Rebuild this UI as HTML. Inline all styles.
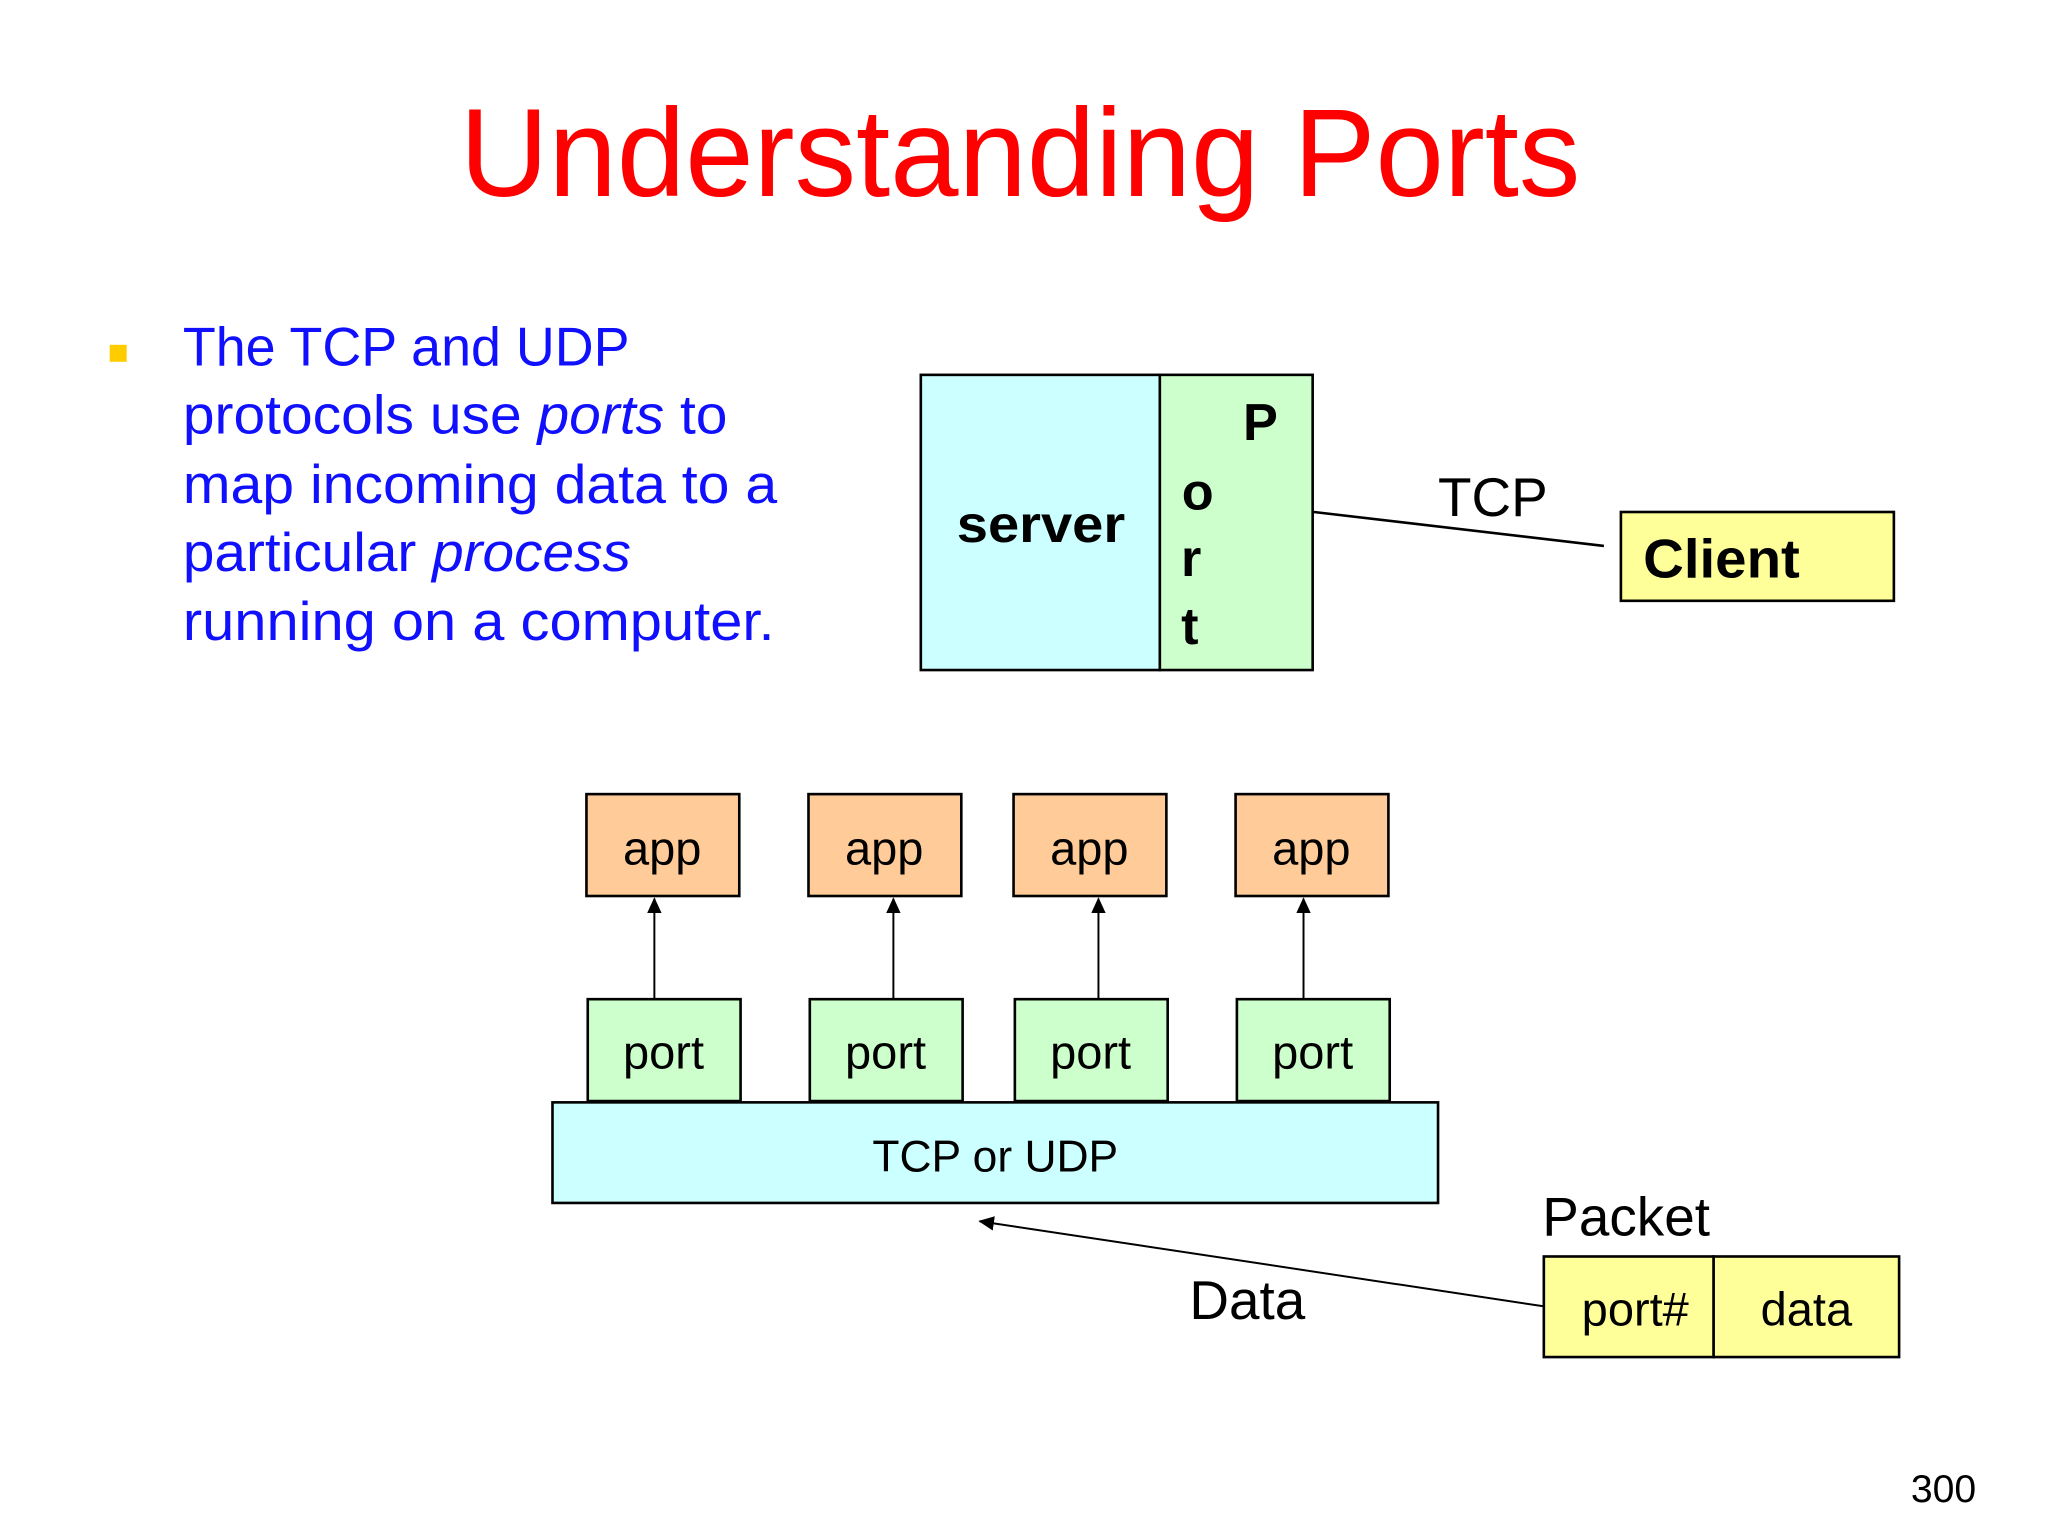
<!DOCTYPE html>
<html><head><meta charset="utf-8"><style>html,body{margin:0;padding:0;background:#fff}svg{display:block}</style></head>
<body>
<svg width="2048" height="1536" viewBox="0 0 1568 1176" preserveAspectRatio="none" xmlns="http://www.w3.org/2000/svg" font-family="Liberation Sans, sans-serif">
<defs><marker id="ah" markerWidth="12" markerHeight="12" refX="11" refY="5.5" orient="auto" markerUnits="userSpaceOnUse"><path d="M0,0 L12,5.5 L0,11 z" fill="#000"/></marker></defs>
<text x="781" y="150" text-anchor="middle" font-size="96" fill="#FF0000" textLength="858" lengthAdjust="spacingAndGlyphs">Understanding Ports</text>
<rect x="84" y="264" width="13" height="13" fill="#FFCC00"/>
<g fill="#1010FF" font-size="42">
<text x="140" y="280" textLength="342" lengthAdjust="spacingAndGlyphs">The TCP and UDP</text>
<text x="140" y="332" textLength="417" lengthAdjust="spacingAndGlyphs">protocols use <tspan font-style="italic">ports</tspan> to</text>
<text x="140" y="385" textLength="455" lengthAdjust="spacingAndGlyphs">map incoming data to a</text>
<text x="140" y="437" textLength="343" lengthAdjust="spacingAndGlyphs">particular <tspan font-style="italic">process</tspan></text>
<text x="140" y="490" textLength="453" lengthAdjust="spacingAndGlyphs">running on a computer.</text>
</g>
<g stroke="#000" stroke-width="2">
<rect x="705" y="287" width="183" height="226" fill="#CCFFFF"/>
<rect x="888" y="287" width="117" height="226" fill="#CCFFCC"/>
<rect x="1241" y="392" width="209" height="68" fill="#FFFF99"/>
<line x1="1006" y1="392" x2="1228" y2="418"/>
</g>
<g font-weight="bold" font-size="40" fill="#000">
<text x="797" y="415" text-anchor="middle" textLength="129" lengthAdjust="spacingAndGlyphs">server</text>
<text x="965" y="337" text-anchor="middle">P</text>
<text x="917" y="390" text-anchor="middle">o</text>
<text x="912" y="441" text-anchor="middle">r</text>
<text x="911" y="493" text-anchor="middle">t</text>
<text x="1258" y="442" font-size="42" textLength="120" lengthAdjust="spacingAndGlyphs">Client</text>
</g>
<text x="1143" y="395" text-anchor="middle" font-size="42">TCP</text>
<g stroke="#000" stroke-width="2">
<rect x="449" y="608" width="117" height="78" fill="#FFCC99"/>
<rect x="619" y="608" width="117" height="78" fill="#FFCC99"/>
<rect x="776" y="608" width="117" height="78" fill="#FFCC99"/>
<rect x="946" y="608" width="117" height="78" fill="#FFCC99"/>
<rect x="450" y="765" width="117" height="78" fill="#CCFFCC"/>
<rect x="620" y="765" width="117" height="78" fill="#CCFFCC"/>
<rect x="777" y="765" width="117" height="78" fill="#CCFFCC"/>
<rect x="947" y="765" width="117" height="78" fill="#CCFFCC"/>
<rect x="423" y="844" width="678" height="77" fill="#CCFFFF"/>
<rect x="1182" y="962" width="130" height="77" fill="#FFFF99"/>
<rect x="1312" y="962" width="142" height="77" fill="#FFFF99"/>
</g>
<g stroke="#000" stroke-width="1.5" marker-end="url(#ah)">
<line x1="501" y1="765" x2="501" y2="688"/>
<line x1="684" y1="765" x2="684" y2="688"/>
<line x1="841" y1="765" x2="841" y2="688"/>
<line x1="998" y1="765" x2="998" y2="688"/>
<line x1="1181" y1="1000" x2="750" y2="935"/>
</g>
<g font-size="36" text-anchor="middle" fill="#000">
<text x="507" y="662">app</text><text x="677" y="662">app</text><text x="834" y="662">app</text><text x="1004" y="662">app</text>
<text x="508" y="818">port</text><text x="678" y="818">port</text><text x="835" y="818">port</text><text x="1005" y="818">port</text>
<text x="762" y="897" font-size="34">TCP or UDP</text>
<text x="1252" y="1015">port#</text><text x="1383" y="1015">data</text>
</g>
<text x="955" y="1010" text-anchor="middle" font-size="42">Data</text>
<text x="1245" y="946" text-anchor="middle" font-size="42">Packet</text>
<text x="1488" y="1150" text-anchor="middle" font-size="30">300</text>
</svg>
</body></html>
